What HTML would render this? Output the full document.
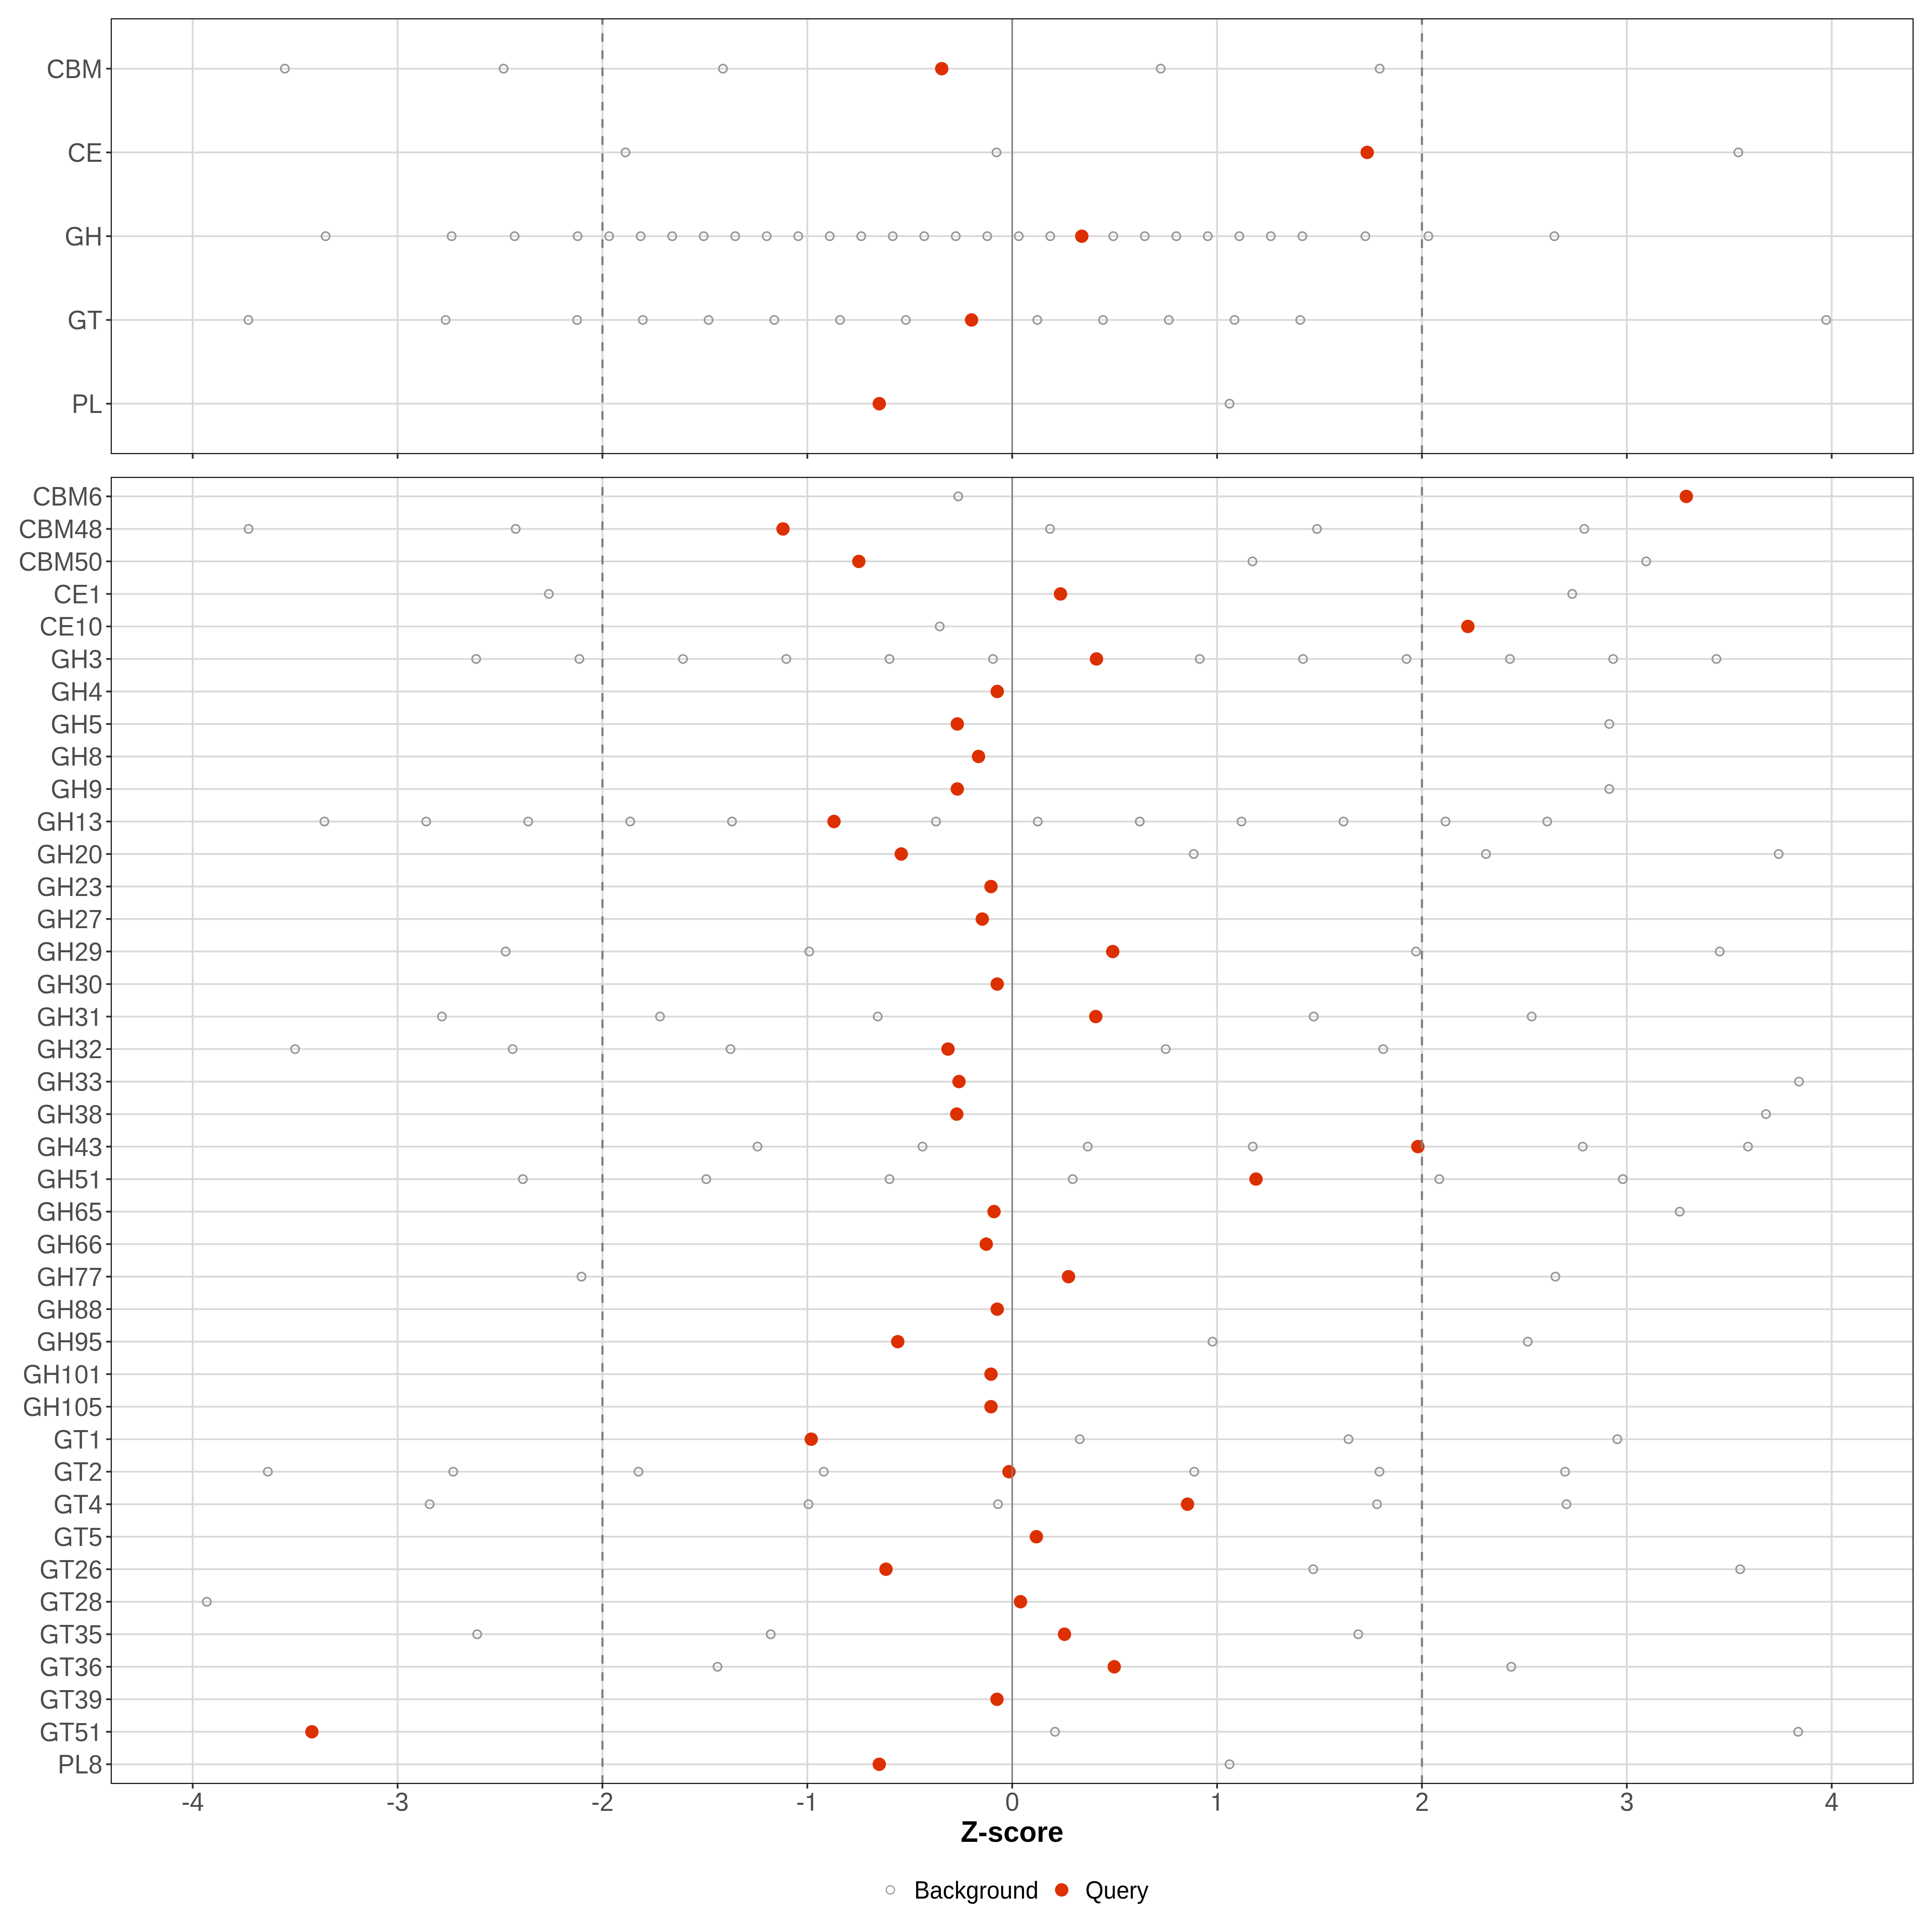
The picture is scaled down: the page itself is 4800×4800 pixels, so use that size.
<!DOCTYPE html>
<html lang="en">
<head>
<meta charset="utf-8">
<title>Z-score</title>
<style>html,body{margin:0;padding:0;background:#fff;}body{width:4800px;height:4800px;overflow:hidden;font-family:"Liberation Sans",sans-serif;}svg{display:block;}</style>
</head>
<body>
<svg width="4800" height="4800" viewBox="0 0 4800 4800" font-family="'Liberation Sans', sans-serif">
<rect width="4800" height="4800" fill="#ffffff"/>
<rect x="276.4" y="46.8" width="4476.6" height="1080.1" fill="#ffffff"/>
<path d="M276.4 170.6H4753M276.4 378.7H4753M276.4 586.8H4753M276.4 794.9H4753M276.4 1003H4753M478.78 46.8V1126.9M987.78 46.8V1126.9M1496.78 46.8V1126.9M2005.78 46.8V1126.9M2514.78 46.8V1126.9M3023.78 46.8V1126.9M3532.78 46.8V1126.9M4041.78 46.8V1126.9M4550.78 46.8V1126.9" stroke="#d9d9d9" stroke-width="4.44" fill="none"/>
<g fill="none" stroke="#999999" stroke-width="4.0">
<circle cx="707.7" cy="170.6" r="10.25"/>
<circle cx="1251.2" cy="170.6" r="10.25"/>
<circle cx="1796.23" cy="170.6" r="10.25"/>
<circle cx="2883.75" cy="170.6" r="10.25"/>
<circle cx="3427.77" cy="170.6" r="10.25"/>
<circle cx="1554" cy="378.7" r="10.25"/>
<circle cx="2475.82" cy="378.7" r="10.25"/>
<circle cx="4318.85" cy="378.7" r="10.25"/>
<circle cx="808.97" cy="586.8" r="10.25"/>
<circle cx="1122.08" cy="586.8" r="10.25"/>
<circle cx="1278.64" cy="586.8" r="10.25"/>
<circle cx="1435.2" cy="586.8" r="10.25"/>
<circle cx="1513.48" cy="586.8" r="10.25"/>
<circle cx="1591.76" cy="586.8" r="10.25"/>
<circle cx="1670.04" cy="586.8" r="10.25"/>
<circle cx="1748.32" cy="586.8" r="10.25"/>
<circle cx="1826.59" cy="586.8" r="10.25"/>
<circle cx="1904.87" cy="586.8" r="10.25"/>
<circle cx="1983.15" cy="586.8" r="10.25"/>
<circle cx="2061.43" cy="586.8" r="10.25"/>
<circle cx="2139.71" cy="586.8" r="10.25"/>
<circle cx="2217.99" cy="586.8" r="10.25"/>
<circle cx="2296.27" cy="586.8" r="10.25"/>
<circle cx="2374.55" cy="586.8" r="10.25"/>
<circle cx="2452.83" cy="586.8" r="10.25"/>
<circle cx="2531.11" cy="586.8" r="10.25"/>
<circle cx="2609.38" cy="586.8" r="10.25"/>
<circle cx="2765.94" cy="586.8" r="10.25"/>
<circle cx="2844.22" cy="586.8" r="10.25"/>
<circle cx="2922.5" cy="586.8" r="10.25"/>
<circle cx="3000.78" cy="586.8" r="10.25"/>
<circle cx="3079.06" cy="586.8" r="10.25"/>
<circle cx="3157.34" cy="586.8" r="10.25"/>
<circle cx="3235.62" cy="586.8" r="10.25"/>
<circle cx="3392.17" cy="586.8" r="10.25"/>
<circle cx="3548.73" cy="586.8" r="10.25"/>
<circle cx="3861.85" cy="586.8" r="10.25"/>
<circle cx="617.11" cy="794.9" r="10.25"/>
<circle cx="1107.12" cy="794.9" r="10.25"/>
<circle cx="1433.79" cy="794.9" r="10.25"/>
<circle cx="1597.13" cy="794.9" r="10.25"/>
<circle cx="1760.47" cy="794.9" r="10.25"/>
<circle cx="1923.8" cy="794.9" r="10.25"/>
<circle cx="2087.14" cy="794.9" r="10.25"/>
<circle cx="2250.48" cy="794.9" r="10.25"/>
<circle cx="2577.15" cy="794.9" r="10.25"/>
<circle cx="2740.49" cy="794.9" r="10.25"/>
<circle cx="2903.82" cy="794.9" r="10.25"/>
<circle cx="3067.16" cy="794.9" r="10.25"/>
<circle cx="3230.5" cy="794.9" r="10.25"/>
<circle cx="4537.19" cy="794.9" r="10.25"/>
<circle cx="3054.74" cy="1003" r="10.25"/>
</g>
<g fill="#dd3000">
<circle cx="2339.74" cy="170.6" r="16.65"/>
<circle cx="3396.72" cy="378.7" r="16.65"/>
<circle cx="2687.66" cy="586.8" r="16.65"/>
<circle cx="2413.81" cy="794.9" r="16.65"/>
<circle cx="2184.52" cy="1003" r="16.65"/>
</g>
<path d="M2514.78 1126.9V46.8" stroke="#7f7f7f" stroke-width="3.56" fill="none"/>
<path d="M1496.78 1128.1V46.8M3532.78 1128.1V46.8" stroke="#7f7f7f" stroke-width="5.33" stroke-dasharray="21.339 21.339" fill="none"/>
<rect x="276.4" y="46.8" width="4476.6" height="1080.1" fill="none" stroke="#000000" stroke-width="2.5"/>
<path d="M263.75 170.6H275.15M263.75 378.7H275.15M263.75 586.8H275.15M263.75 794.9H275.15M263.75 1003H275.15M478.78 1128.15V1139.55M987.78 1128.15V1139.55M1496.78 1128.15V1139.55M2005.78 1128.15V1139.55M2514.78 1128.15V1139.55M3023.78 1128.15V1139.55M3532.78 1128.15V1139.55M4041.78 1128.15V1139.55M4550.78 1128.15V1139.55" stroke="#333333" stroke-width="4.44" fill="none"/>
<g font-size="62.5" fill="#4d4d4d" text-anchor="end">
<text transform="translate(254.6 193.6) scale(1 1.068)">CBM</text>
<text transform="translate(254.6 401.7) scale(1 1.068)">CE</text>
<text transform="translate(254.6 609.8) scale(1 1.068)">GH</text>
<path d="M204.8 609.8H201.05L199.45 603.5V600.8H204.8Z"/>
<text transform="translate(254.6 817.9) scale(1 1.068)">GT</text>
<path d="M211.76 817.9H208.01L206.41 811.6V808.9H211.76Z"/>
<text transform="translate(254.6 1026) scale(1 1.068)">PL</text>
</g>
<rect x="276.4" y="1186.1" width="4476.6" height="3244.8" fill="#ffffff"/>
<path d="M276.4 1233.3H4753M276.4 1314.07H4753M276.4 1394.84H4753M276.4 1475.61H4753M276.4 1556.38H4753M276.4 1637.15H4753M276.4 1717.92H4753M276.4 1798.69H4753M276.4 1879.46H4753M276.4 1960.23H4753M276.4 2041H4753M276.4 2121.77H4753M276.4 2202.54H4753M276.4 2283.31H4753M276.4 2364.08H4753M276.4 2444.85H4753M276.4 2525.62H4753M276.4 2606.39H4753M276.4 2687.16H4753M276.4 2767.93H4753M276.4 2848.7H4753M276.4 2929.47H4753M276.4 3010.24H4753M276.4 3091.01H4753M276.4 3171.78H4753M276.4 3252.55H4753M276.4 3333.32H4753M276.4 3414.09H4753M276.4 3494.86H4753M276.4 3575.63H4753M276.4 3656.4H4753M276.4 3737.17H4753M276.4 3817.94H4753M276.4 3898.71H4753M276.4 3979.48H4753M276.4 4060.25H4753M276.4 4141.02H4753M276.4 4221.79H4753M276.4 4302.56H4753M276.4 4383.33H4753M478.78 1186.1V4430.9M987.78 1186.1V4430.9M1496.78 1186.1V4430.9M2005.78 1186.1V4430.9M2514.78 1186.1V4430.9M3023.78 1186.1V4430.9M3532.78 1186.1V4430.9M4041.78 1186.1V4430.9M4550.78 1186.1V4430.9" stroke="#d9d9d9" stroke-width="4.44" fill="none"/>
<g fill="none" stroke="#999999" stroke-width="4.0">
<circle cx="2380.7" cy="1233.3" r="10.25"/>
<circle cx="617.62" cy="1314.07" r="10.25"/>
<circle cx="1281.23" cy="1314.07" r="10.25"/>
<circle cx="2608.69" cy="1314.07" r="10.25"/>
<circle cx="3272.04" cy="1314.07" r="10.25"/>
<circle cx="3936.16" cy="1314.07" r="10.25"/>
<circle cx="3111.74" cy="1394.84" r="10.25"/>
<circle cx="4089.85" cy="1394.84" r="10.25"/>
<circle cx="1363.67" cy="1475.61" r="10.25"/>
<circle cx="3906.13" cy="1475.61" r="10.25"/>
<circle cx="2334.65" cy="1556.38" r="10.25"/>
<circle cx="1183.01" cy="1637.15" r="10.25"/>
<circle cx="1439.49" cy="1637.15" r="10.25"/>
<circle cx="1697" cy="1637.15" r="10.25"/>
<circle cx="1953.48" cy="1637.15" r="10.25"/>
<circle cx="2209.97" cy="1637.15" r="10.25"/>
<circle cx="2467.12" cy="1637.15" r="10.25"/>
<circle cx="2980.7" cy="1637.15" r="10.25"/>
<circle cx="3237.29" cy="1637.15" r="10.25"/>
<circle cx="3494.43" cy="1637.15" r="10.25"/>
<circle cx="3751.43" cy="1637.15" r="10.25"/>
<circle cx="4007.91" cy="1637.15" r="10.25"/>
<circle cx="4264.4" cy="1637.15" r="10.25"/>
<circle cx="3998.24" cy="1798.69" r="10.25"/>
<circle cx="3998.24" cy="1960.23" r="10.25"/>
<circle cx="805.91" cy="2041" r="10.25"/>
<circle cx="1058.84" cy="2041" r="10.25"/>
<circle cx="1312.27" cy="2041" r="10.25"/>
<circle cx="1565.7" cy="2041" r="10.25"/>
<circle cx="1818.62" cy="2041" r="10.25"/>
<circle cx="2325.49" cy="2041" r="10.25"/>
<circle cx="2578.41" cy="2041" r="10.25"/>
<circle cx="2831.69" cy="2041" r="10.25"/>
<circle cx="3084.51" cy="2041" r="10.25"/>
<circle cx="3337.89" cy="2041" r="10.25"/>
<circle cx="3591.33" cy="2041" r="10.25"/>
<circle cx="3844.05" cy="2041" r="10.25"/>
<circle cx="2965.79" cy="2121.77" r="10.25"/>
<circle cx="3691.89" cy="2121.77" r="10.25"/>
<circle cx="4419.1" cy="2121.77" r="10.25"/>
<circle cx="1256.29" cy="2364.08" r="10.25"/>
<circle cx="2010.58" cy="2364.08" r="10.25"/>
<circle cx="3517.99" cy="2364.08" r="10.25"/>
<circle cx="4272.54" cy="2364.08" r="10.25"/>
<circle cx="1098.02" cy="2525.62" r="10.25"/>
<circle cx="1639.8" cy="2525.62" r="10.25"/>
<circle cx="2180.71" cy="2525.62" r="10.25"/>
<circle cx="3263.9" cy="2525.62" r="10.25"/>
<circle cx="3805.37" cy="2525.62" r="10.25"/>
<circle cx="733.14" cy="2606.39" r="10.25"/>
<circle cx="1273.59" cy="2606.39" r="10.25"/>
<circle cx="1814.91" cy="2606.39" r="10.25"/>
<circle cx="2896.32" cy="2606.39" r="10.25"/>
<circle cx="3436.57" cy="2606.39" r="10.25"/>
<circle cx="4469.48" cy="2687.16" r="10.25"/>
<circle cx="4387.55" cy="2767.93" r="10.25"/>
<circle cx="1881.98" cy="2848.7" r="10.25"/>
<circle cx="2291.9" cy="2848.7" r="10.25"/>
<circle cx="2702.48" cy="2848.7" r="10.25"/>
<circle cx="3112.4" cy="2848.7" r="10.25"/>
<circle cx="3932.29" cy="2848.7" r="10.25"/>
<circle cx="4342.77" cy="2848.7" r="10.25"/>
<circle cx="1299.04" cy="2929.47" r="10.25"/>
<circle cx="1754.71" cy="2929.47" r="10.25"/>
<circle cx="2209.97" cy="2929.47" r="10.25"/>
<circle cx="2665.18" cy="2929.47" r="10.25"/>
<circle cx="3575.86" cy="2929.47" r="10.25"/>
<circle cx="4031.83" cy="2929.47" r="10.25"/>
<circle cx="4173.31" cy="3010.24" r="10.25"/>
<circle cx="1444.69" cy="3171.78" r="10.25"/>
<circle cx="3864.4" cy="3171.78" r="10.25"/>
<circle cx="3012.4" cy="3333.32" r="10.25"/>
<circle cx="3795.7" cy="3333.32" r="10.25"/>
<circle cx="2682.58" cy="3575.63" r="10.25"/>
<circle cx="3350.31" cy="3575.63" r="10.25"/>
<circle cx="4018.09" cy="3575.63" r="10.25"/>
<circle cx="665.46" cy="3656.4" r="10.25"/>
<circle cx="1126.01" cy="3656.4" r="10.25"/>
<circle cx="1586.31" cy="3656.4" r="10.25"/>
<circle cx="2046.61" cy="3656.4" r="10.25"/>
<circle cx="2967.11" cy="3656.4" r="10.25"/>
<circle cx="3427.26" cy="3656.4" r="10.25"/>
<circle cx="3888.32" cy="3656.4" r="10.25"/>
<circle cx="1067.49" cy="3737.17" r="10.25"/>
<circle cx="2008.7" cy="3737.17" r="10.25"/>
<circle cx="2479.48" cy="3737.17" r="10.25"/>
<circle cx="3421.15" cy="3737.17" r="10.25"/>
<circle cx="3891.88" cy="3737.17" r="10.25"/>
<circle cx="3262.68" cy="3898.71" r="10.25"/>
<circle cx="4323.43" cy="3898.71" r="10.25"/>
<circle cx="513.81" cy="3979.48" r="10.25"/>
<circle cx="1185.55" cy="4060.25" r="10.25"/>
<circle cx="1914.91" cy="4060.25" r="10.25"/>
<circle cx="3374.54" cy="4060.25" r="10.25"/>
<circle cx="1782.59" cy="4141.02" r="10.25"/>
<circle cx="3754.68" cy="4141.02" r="10.25"/>
<circle cx="2621.11" cy="4302.56" r="10.25"/>
<circle cx="4467.45" cy="4302.56" r="10.25"/>
<circle cx="3054.74" cy="4383.33" r="10.25"/>
</g>
<g fill="#dd3000">
<circle cx="4189.59" cy="1233.3" r="16.65"/>
<circle cx="1945.34" cy="1314.07" r="16.65"/>
<circle cx="2133.63" cy="1394.84" r="16.65"/>
<circle cx="2634.8" cy="1475.61" r="16.65"/>
<circle cx="3646.85" cy="1556.38" r="16.65"/>
<circle cx="2724.21" cy="1637.15" r="16.65"/>
<circle cx="2477.6" cy="1717.92" r="16.65"/>
<circle cx="2378.41" cy="1798.69" r="16.65"/>
<circle cx="2431.09" cy="1879.46" r="16.65"/>
<circle cx="2378.41" cy="1960.23" r="16.65"/>
<circle cx="2072.06" cy="2041" r="16.65"/>
<circle cx="2239.13" cy="2121.77" r="16.65"/>
<circle cx="2462.08" cy="2202.54" r="16.65"/>
<circle cx="2440.4" cy="2283.31" r="16.65"/>
<circle cx="2764.57" cy="2364.08" r="16.65"/>
<circle cx="2477.6" cy="2444.85" r="16.65"/>
<circle cx="2722.43" cy="2525.62" r="16.65"/>
<circle cx="2355.31" cy="2606.39" r="16.65"/>
<circle cx="2382.59" cy="2687.16" r="16.65"/>
<circle cx="2376.99" cy="2767.93" r="16.65"/>
<circle cx="3522.63" cy="2848.7" r="16.65"/>
<circle cx="3120.49" cy="2929.47" r="16.65"/>
<circle cx="2469.61" cy="3010.24" r="16.65"/>
<circle cx="2450.32" cy="3091.01" r="16.65"/>
<circle cx="2654.7" cy="3171.78" r="16.65"/>
<circle cx="2477.6" cy="3252.55" r="16.65"/>
<circle cx="2230.43" cy="3333.32" r="16.65"/>
<circle cx="2462.08" cy="3414.09" r="16.65"/>
<circle cx="2462.08" cy="3494.86" r="16.65"/>
<circle cx="2015.52" cy="3575.63" r="16.65"/>
<circle cx="2506.81" cy="3656.4" r="16.65"/>
<circle cx="2950.32" cy="3737.17" r="16.65"/>
<circle cx="2574.85" cy="3817.94" r="16.65"/>
<circle cx="2201.22" cy="3898.71" r="16.65"/>
<circle cx="2535.41" cy="3979.48" r="16.65"/>
<circle cx="2644.72" cy="4060.25" r="16.65"/>
<circle cx="2768.33" cy="4141.02" r="16.65"/>
<circle cx="2476.99" cy="4221.79" r="16.65"/>
<circle cx="774.87" cy="4302.56" r="16.65"/>
<circle cx="2184.52" cy="4383.33" r="16.65"/>
</g>
<path d="M2514.78 4430.9V1186.1" stroke="#7f7f7f" stroke-width="3.56" fill="none"/>
<path d="M1496.78 4432.1V1186.1M3532.78 4432.1V1186.1" stroke="#7f7f7f" stroke-width="5.33" stroke-dasharray="21.339 21.339" fill="none"/>
<rect x="276.4" y="1186.1" width="4476.6" height="3244.8" fill="none" stroke="#000000" stroke-width="2.5"/>
<path d="M263.75 1233.3H275.15M263.75 1314.07H275.15M263.75 1394.84H275.15M263.75 1475.61H275.15M263.75 1556.38H275.15M263.75 1637.15H275.15M263.75 1717.92H275.15M263.75 1798.69H275.15M263.75 1879.46H275.15M263.75 1960.23H275.15M263.75 2041H275.15M263.75 2121.77H275.15M263.75 2202.54H275.15M263.75 2283.31H275.15M263.75 2364.08H275.15M263.75 2444.85H275.15M263.75 2525.62H275.15M263.75 2606.39H275.15M263.75 2687.16H275.15M263.75 2767.93H275.15M263.75 2848.7H275.15M263.75 2929.47H275.15M263.75 3010.24H275.15M263.75 3091.01H275.15M263.75 3171.78H275.15M263.75 3252.55H275.15M263.75 3333.32H275.15M263.75 3414.09H275.15M263.75 3494.86H275.15M263.75 3575.63H275.15M263.75 3656.4H275.15M263.75 3737.17H275.15M263.75 3817.94H275.15M263.75 3898.71H275.15M263.75 3979.48H275.15M263.75 4060.25H275.15M263.75 4141.02H275.15M263.75 4221.79H275.15M263.75 4302.56H275.15M263.75 4383.33H275.15M478.78 4432.15V4443.55M987.78 4432.15V4443.55M1496.78 4432.15V4443.55M2005.78 4432.15V4443.55M2514.78 4432.15V4443.55M3023.78 4432.15V4443.55M3532.78 4432.15V4443.55M4041.78 4432.15V4443.55M4550.78 4432.15V4443.55" stroke="#333333" stroke-width="4.44" fill="none"/>
<g font-size="62.5" fill="#4d4d4d" text-anchor="end">
<text transform="translate(219.84 1256.3) scale(1 1.03)" text-anchor="start">6</text>
<text transform="translate(219.84 1256.3) scale(1 1.068)">CBM</text>
<text transform="translate(185.08 1337.07) scale(1 1.03)" text-anchor="start">48</text>
<text transform="translate(185.08 1337.07) scale(1 1.068)">CBM</text>
<text transform="translate(185.08 1417.84) scale(1 1.03)" text-anchor="start">50</text>
<text transform="translate(185.08 1417.84) scale(1 1.068)">CBM</text>
<path transform="translate(219.84 1498.61) scale(0.030518 -0.031433)" d="M519 0V1007H193V1134C330 1150 420 1158 448 1174C520 1212 565 1295 590 1409H702V0Z"/>
<text transform="translate(219.84 1498.61) scale(1 1.068)">CE</text>
<path transform="translate(185.08 1579.38) scale(0.030518 -0.031433)" d="M519 0V1007H193V1134C330 1150 420 1158 448 1174C520 1212 565 1295 590 1409H702V0Z"/><text transform="translate(219.84 1579.38) scale(1 1.03)" text-anchor="start">0</text>
<text transform="translate(185.08 1579.38) scale(1 1.068)">CE</text>
<text transform="translate(219.84 1660.15) scale(1 1.03)" text-anchor="start">3</text>
<text transform="translate(219.84 1660.15) scale(1 1.068)">GH</text>
<path d="M170.04 1660.15H166.29L164.69 1653.85V1651.15H170.04Z"/>
<text transform="translate(219.84 1740.92) scale(1 1.03)" text-anchor="start">4</text>
<text transform="translate(219.84 1740.92) scale(1 1.068)">GH</text>
<path d="M170.04 1740.92H166.29L164.69 1734.62V1731.92H170.04Z"/>
<text transform="translate(219.84 1821.69) scale(1 1.03)" text-anchor="start">5</text>
<text transform="translate(219.84 1821.69) scale(1 1.068)">GH</text>
<path d="M170.04 1821.69H166.29L164.69 1815.39V1812.69H170.04Z"/>
<text transform="translate(219.84 1902.46) scale(1 1.03)" text-anchor="start">8</text>
<text transform="translate(219.84 1902.46) scale(1 1.068)">GH</text>
<path d="M170.04 1902.46H166.29L164.69 1896.16V1893.46H170.04Z"/>
<text transform="translate(219.84 1983.23) scale(1 1.03)" text-anchor="start">9</text>
<text transform="translate(219.84 1983.23) scale(1 1.068)">GH</text>
<path d="M170.04 1983.23H166.29L164.69 1976.93V1974.23H170.04Z"/>
<path transform="translate(185.08 2064) scale(0.030518 -0.031433)" d="M519 0V1007H193V1134C330 1150 420 1158 448 1174C520 1212 565 1295 590 1409H702V0Z"/><text transform="translate(219.84 2064) scale(1 1.03)" text-anchor="start">3</text>
<text transform="translate(185.08 2064) scale(1 1.068)">GH</text>
<path d="M135.28 2064H131.53L129.93 2057.7V2055H135.28Z"/>
<text transform="translate(185.08 2144.77) scale(1 1.03)" text-anchor="start">20</text>
<text transform="translate(185.08 2144.77) scale(1 1.068)">GH</text>
<path d="M135.28 2144.77H131.53L129.93 2138.47V2135.77H135.28Z"/>
<text transform="translate(185.08 2225.54) scale(1 1.03)" text-anchor="start">23</text>
<text transform="translate(185.08 2225.54) scale(1 1.068)">GH</text>
<path d="M135.28 2225.54H131.53L129.93 2219.24V2216.54H135.28Z"/>
<text transform="translate(185.08 2306.31) scale(1 1.03)" text-anchor="start">27</text>
<text transform="translate(185.08 2306.31) scale(1 1.068)">GH</text>
<path d="M135.28 2306.31H131.53L129.93 2300.01V2297.31H135.28Z"/>
<text transform="translate(185.08 2387.08) scale(1 1.03)" text-anchor="start">29</text>
<text transform="translate(185.08 2387.08) scale(1 1.068)">GH</text>
<path d="M135.28 2387.08H131.53L129.93 2380.78V2378.08H135.28Z"/>
<text transform="translate(185.08 2467.85) scale(1 1.03)" text-anchor="start">30</text>
<text transform="translate(185.08 2467.85) scale(1 1.068)">GH</text>
<path d="M135.28 2467.85H131.53L129.93 2461.55V2458.85H135.28Z"/>
<text transform="translate(185.08 2548.62) scale(1 1.03)" text-anchor="start">3</text><path transform="translate(219.84 2548.62) scale(0.030518 -0.031433)" d="M519 0V1007H193V1134C330 1150 420 1158 448 1174C520 1212 565 1295 590 1409H702V0Z"/>
<text transform="translate(185.08 2548.62) scale(1 1.068)">GH</text>
<path d="M135.28 2548.62H131.53L129.93 2542.32V2539.62H135.28Z"/>
<text transform="translate(185.08 2629.39) scale(1 1.03)" text-anchor="start">32</text>
<text transform="translate(185.08 2629.39) scale(1 1.068)">GH</text>
<path d="M135.28 2629.39H131.53L129.93 2623.09V2620.39H135.28Z"/>
<text transform="translate(185.08 2710.16) scale(1 1.03)" text-anchor="start">33</text>
<text transform="translate(185.08 2710.16) scale(1 1.068)">GH</text>
<path d="M135.28 2710.16H131.53L129.93 2703.86V2701.16H135.28Z"/>
<text transform="translate(185.08 2790.93) scale(1 1.03)" text-anchor="start">38</text>
<text transform="translate(185.08 2790.93) scale(1 1.068)">GH</text>
<path d="M135.28 2790.93H131.53L129.93 2784.63V2781.93H135.28Z"/>
<text transform="translate(185.08 2871.7) scale(1 1.03)" text-anchor="start">43</text>
<text transform="translate(185.08 2871.7) scale(1 1.068)">GH</text>
<path d="M135.28 2871.7H131.53L129.93 2865.4V2862.7H135.28Z"/>
<text transform="translate(185.08 2952.47) scale(1 1.03)" text-anchor="start">5</text><path transform="translate(219.84 2952.47) scale(0.030518 -0.031433)" d="M519 0V1007H193V1134C330 1150 420 1158 448 1174C520 1212 565 1295 590 1409H702V0Z"/>
<text transform="translate(185.08 2952.47) scale(1 1.068)">GH</text>
<path d="M135.28 2952.47H131.53L129.93 2946.17V2943.47H135.28Z"/>
<text transform="translate(185.08 3033.24) scale(1 1.03)" text-anchor="start">65</text>
<text transform="translate(185.08 3033.24) scale(1 1.068)">GH</text>
<path d="M135.28 3033.24H131.53L129.93 3026.94V3024.24H135.28Z"/>
<text transform="translate(185.08 3114.01) scale(1 1.03)" text-anchor="start">66</text>
<text transform="translate(185.08 3114.01) scale(1 1.068)">GH</text>
<path d="M135.28 3114.01H131.53L129.93 3107.71V3105.01H135.28Z"/>
<text transform="translate(185.08 3194.78) scale(1 1.03)" text-anchor="start">77</text>
<text transform="translate(185.08 3194.78) scale(1 1.068)">GH</text>
<path d="M135.28 3194.78H131.53L129.93 3188.48V3185.78H135.28Z"/>
<text transform="translate(185.08 3275.55) scale(1 1.03)" text-anchor="start">88</text>
<text transform="translate(185.08 3275.55) scale(1 1.068)">GH</text>
<path d="M135.28 3275.55H131.53L129.93 3269.25V3266.55H135.28Z"/>
<text transform="translate(185.08 3356.32) scale(1 1.03)" text-anchor="start">95</text>
<text transform="translate(185.08 3356.32) scale(1 1.068)">GH</text>
<path d="M135.28 3356.32H131.53L129.93 3350.02V3347.32H135.28Z"/>
<path transform="translate(150.32 3437.09) scale(0.030518 -0.031433)" d="M519 0V1007H193V1134C330 1150 420 1158 448 1174C520 1212 565 1295 590 1409H702V0Z"/><text transform="translate(185.08 3437.09) scale(1 1.03)" text-anchor="start">0</text><path transform="translate(219.84 3437.09) scale(0.030518 -0.031433)" d="M519 0V1007H193V1134C330 1150 420 1158 448 1174C520 1212 565 1295 590 1409H702V0Z"/>
<text transform="translate(150.32 3437.09) scale(1 1.068)">GH</text>
<path d="M100.52 3437.09H96.77L95.17 3430.79V3428.09H100.52Z"/>
<path transform="translate(150.32 3517.86) scale(0.030518 -0.031433)" d="M519 0V1007H193V1134C330 1150 420 1158 448 1174C520 1212 565 1295 590 1409H702V0Z"/><text transform="translate(185.08 3517.86) scale(1 1.03)" text-anchor="start">05</text>
<text transform="translate(150.32 3517.86) scale(1 1.068)">GH</text>
<path d="M100.52 3517.86H96.77L95.17 3511.56V3508.86H100.52Z"/>
<path transform="translate(219.84 3598.63) scale(0.030518 -0.031433)" d="M519 0V1007H193V1134C330 1150 420 1158 448 1174C520 1212 565 1295 590 1409H702V0Z"/>
<text transform="translate(219.84 3598.63) scale(1 1.068)">GT</text>
<path d="M177 3598.63H173.25L171.65 3592.33V3589.63H177Z"/>
<text transform="translate(219.84 3679.4) scale(1 1.03)" text-anchor="start">2</text>
<text transform="translate(219.84 3679.4) scale(1 1.068)">GT</text>
<path d="M177 3679.4H173.25L171.65 3673.1V3670.4H177Z"/>
<text transform="translate(219.84 3760.17) scale(1 1.03)" text-anchor="start">4</text>
<text transform="translate(219.84 3760.17) scale(1 1.068)">GT</text>
<path d="M177 3760.17H173.25L171.65 3753.87V3751.17H177Z"/>
<text transform="translate(219.84 3840.94) scale(1 1.03)" text-anchor="start">5</text>
<text transform="translate(219.84 3840.94) scale(1 1.068)">GT</text>
<path d="M177 3840.94H173.25L171.65 3834.64V3831.94H177Z"/>
<text transform="translate(185.08 3921.71) scale(1 1.03)" text-anchor="start">26</text>
<text transform="translate(185.08 3921.71) scale(1 1.068)">GT</text>
<path d="M142.24 3921.71H138.49L136.89 3915.41V3912.71H142.24Z"/>
<text transform="translate(185.08 4002.48) scale(1 1.03)" text-anchor="start">28</text>
<text transform="translate(185.08 4002.48) scale(1 1.068)">GT</text>
<path d="M142.24 4002.48H138.49L136.89 3996.18V3993.48H142.24Z"/>
<text transform="translate(185.08 4083.25) scale(1 1.03)" text-anchor="start">35</text>
<text transform="translate(185.08 4083.25) scale(1 1.068)">GT</text>
<path d="M142.24 4083.25H138.49L136.89 4076.95V4074.25H142.24Z"/>
<text transform="translate(185.08 4164.02) scale(1 1.03)" text-anchor="start">36</text>
<text transform="translate(185.08 4164.02) scale(1 1.068)">GT</text>
<path d="M142.24 4164.02H138.49L136.89 4157.72V4155.02H142.24Z"/>
<text transform="translate(185.08 4244.79) scale(1 1.03)" text-anchor="start">39</text>
<text transform="translate(185.08 4244.79) scale(1 1.068)">GT</text>
<path d="M142.24 4244.79H138.49L136.89 4238.49V4235.79H142.24Z"/>
<text transform="translate(185.08 4325.56) scale(1 1.03)" text-anchor="start">5</text><path transform="translate(219.84 4325.56) scale(0.030518 -0.031433)" d="M519 0V1007H193V1134C330 1150 420 1158 448 1174C520 1212 565 1295 590 1409H702V0Z"/>
<text transform="translate(185.08 4325.56) scale(1 1.068)">GT</text>
<path d="M142.24 4325.56H138.49L136.89 4319.26V4316.56H142.24Z"/>
<text transform="translate(219.84 4406.33) scale(1 1.03)" text-anchor="start">8</text>
<text transform="translate(219.84 4406.33) scale(1 1.068)">PL</text>
</g>
<g font-size="62.5" fill="#4d4d4d" text-anchor="middle">
<text transform="translate(450.99 4498.6) scale(1 1.03)" text-anchor="start">-</text>
<text transform="translate(471.81 4498.6) scale(1 1.03)" text-anchor="start">4</text>
<text transform="translate(959.99 4498.6) scale(1 1.03)" text-anchor="start">-</text>
<text transform="translate(980.81 4498.6) scale(1 1.03)" text-anchor="start">3</text>
<text transform="translate(1468.99 4498.6) scale(1 1.03)" text-anchor="start">-</text>
<text transform="translate(1489.81 4498.6) scale(1 1.03)" text-anchor="start">2</text>
<text transform="translate(1977.99 4498.6) scale(1 1.03)" text-anchor="start">-</text>
<path transform="translate(1998.81 4498.6) scale(0.030518 -0.031433)" d="M519 0V1007H193V1134C330 1150 420 1158 448 1174C520 1212 565 1295 590 1409H702V0Z"/>
<text transform="translate(2497.4 4498.6) scale(1 1.03)" text-anchor="start">0</text>
<path transform="translate(3006.4 4498.6) scale(0.030518 -0.031433)" d="M519 0V1007H193V1134C330 1150 420 1158 448 1174C520 1212 565 1295 590 1409H702V0Z"/>
<text transform="translate(3515.4 4498.6) scale(1 1.03)" text-anchor="start">2</text>
<text transform="translate(4024.4 4498.6) scale(1 1.03)" text-anchor="start">3</text>
<text transform="translate(4533.4 4498.6) scale(1 1.03)" text-anchor="start">4</text>
</g>
<g font-size="70.83" font-weight="bold" fill="#000000">
<text transform="translate(2386.67 4576) scale(1 1.048)">Z</text>
<text transform="translate(2429.94 4576) scale(1 1.02)">-score</text>
</g>
<circle cx="2212.1" cy="4695.4" r="10.3" fill="none" stroke="#999999" stroke-width="2.8"/>
<circle cx="2637.75" cy="4695.4" r="16.65" fill="#dd3000"/>
<g font-size="58.33" fill="#000000">
<text transform="translate(2271.2 4717) scale(1 1.067)">B</text>
<text transform="translate(2310.11 4717) scale(0.991 1.04)">ackground</text>
<text transform="translate(2696.4 4717) scale(1 1.067)">Q</text>
<text transform="translate(2741.77 4717) scale(0.983 1.04)">uery</text>
</g>
</svg>
</body>
</html>
